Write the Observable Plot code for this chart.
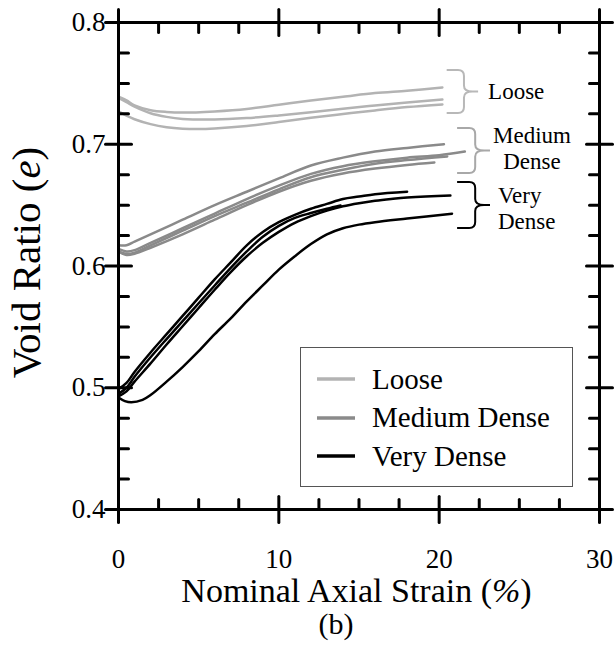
<!DOCTYPE html>
<html><head><meta charset="utf-8">
<script src="https://cdn.jsdelivr.net/npm/d3@7"></script>
<script src="https://cdn.jsdelivr.net/npm/@observablehq/plot@0.6"></script>
<style>
body{margin:0;background:#fff;}
#chart{position:relative;width:616px;height:650px;font-family:"Liberation Serif","Times New Roman",serif;}
#legend{position:absolute;left:300px;top:347px;width:273px;height:140px;border:1px solid #555;box-sizing:border-box;background:#fff;}
.row{position:absolute;left:16px;height:38px;display:flex;align-items:center;font-size:29px;color:#000;white-space:nowrap;font-family:"Liberation Serif","Times New Roman",serif;}
.row svg{margin-right:17px;}
</style></head><body><div id="chart"><div id="legend"></div></div>
<script>
// axes
const xDomain = [0, 30];
const yDomain = [0.4, 0.8];
const xMajor = [0, 10, 20, 30];
const xMinor = [2.5, 5, 7.5, 12.5, 15, 17.5, 22.5, 25, 27.5];
const yMajor = [0.4, 0.5, 0.6, 0.7, 0.8];
const yMinor = [0.425, 0.45, 0.475, 0.525, 0.55, 0.575, 0.625, 0.65, 0.675, 0.725, 0.75, 0.775];

// series: [strain %, void ratio]
const groups = ["Loose", "Medium Dense", "Very Dense"];
const groupColors = ["#b3b3b3", "#8a8a8a", "#000000"];

const loose1 = [[0,0.739],[0.5,0.736],[1,0.732],[2,0.728],[3,0.7265],[4,0.726],[6,0.727],[8,0.729],[10,0.7325],[12,0.736],[14,0.739],[16,0.742],[18,0.744],[20.2,0.7466]];
const loose2 = [[0,0.738],[0.5,0.7345],[1,0.731],[2,0.7255],[3,0.7225],[4,0.7208],[6,0.7203],[8,0.7215],[10,0.7237],[12,0.7263],[14,0.7292],[16,0.7318],[18,0.7343],[20.2,0.7367]];
const loose3 = [[0,0.727],[0.5,0.7235],[1,0.7205],[2,0.7165],[3,0.714],[4,0.7128],[5,0.7125],[6,0.713],[8,0.715],[10,0.7182],[12,0.7217],[14,0.7248],[16,0.7278],[18,0.7305],[20.2,0.7327]];

const medium1 = [[0,0.617],[0.5,0.617],[1,0.62],[2,0.626],[4,0.638],[6,0.65],[8,0.661],[10,0.672],[12,0.6826],[14,0.689],[16,0.694],[18,0.697],[20.3,0.7]];
const medium2 = [[0,0.614],[0.5,0.612],[1,0.613],[2,0.619],[4,0.631],[6,0.643],[8,0.655],[10,0.666],[12,0.6757],[14,0.682],[16,0.686],[18,0.689],[20,0.691],[21.6,0.694]];
const medium3 = [[0,0.612],[0.5,0.61],[1,0.611],[2,0.617],[4,0.629],[6,0.641],[8,0.652],[10,0.663],[12,0.6729],[14,0.679],[16,0.684],[18,0.687],[20.5,0.69]];
const medium4 = [[0,0.612],[0.5,0.609],[1,0.61],[2,0.615],[4,0.626],[6,0.638],[8,0.65],[10,0.661],[12,0.67],[14,0.676],[16,0.68],[18,0.683],[19.7,0.685]];

const dense1 = [[0,0.499],[0.5,0.504],[1,0.513],[2,0.529],[3,0.544],[4,0.559],[5,0.574],[6,0.589],[7,0.603],[8,0.617],[9,0.628],[10,0.636],[11,0.642],[12,0.647],[13,0.651],[14,0.655],[15,0.657],[16,0.659],[18,0.661]];
const dense2 = [[0,0.493],[0.5,0.497],[1,0.505],[2,0.52],[3,0.5355],[4,0.5505],[5,0.5655],[6,0.5805],[7,0.595],[8,0.608],[9,0.619],[10,0.628],[11,0.6355],[12,0.641],[13,0.6455],[14,0.649],[15,0.6515],[16,0.6535],[17,0.655],[18,0.6562],[20.7,0.6579]];
const dense3 = [[0,0.495],[0.5,0.5],[1,0.509],[2,0.525],[3,0.54],[4,0.5547],[5,0.5694],[6,0.584],[7,0.5985],[8,0.612],[9,0.624],[10,0.633],[11,0.6395],[12,0.6435],[13,0.647],[13.85,0.6497]];
const dense4 = [[0,0.492],[0.4,0.489],[0.8,0.488],[1.5,0.49],[2,0.494],[3,0.505],[4,0.517],[5,0.53],[6,0.544],[7,0.557],[8,0.571],[9,0.584],[10,0.597],[11,0.608],[12,0.618],[13,0.626],[14,0.631],[15,0.634],[16,0.636],[18,0.639],[20.8,0.643]];

// bracket annotations (data units)
const braceLabels = ["Loose", "Medium\nDense", "Very\nDense"];
const braceTop = [0.7606, 0.7129, 0.6686];
const braceBottom = [0.7253, 0.676, 0.6308];
const braceLeft = [20.5, 21.15, 21.15];
const braceTip = [22.46, 23.2, 23.2];
const braceColors = ["#b8b8b8", "#a8a8a8", "#000000"];

const rows = [];
function add(group, id, pts) { for (const [x, y] of pts) rows.push({group, id, x, y}); }
add("Loose", "L1", loose1); add("Loose", "L2", loose2); add("Loose", "L3", loose3);
add("Medium Dense", "M1", medium1); add("Medium Dense", "M2", medium2); add("Medium Dense", "M3", medium3); add("Medium Dense", "M4", medium4);
add("Very Dense", "D1", dense1); add("Very Dense", "D2", dense2); add("Very Dense", "D3", dense3); add("Very Dense", "D4", dense4);

const tickShape = {draw(ctx, l) { ctx.moveTo(0, 0); ctx.lineTo(0, -l); }};
const tk = {shape: tickShape, strokeWidth: 3, stroke: "#000"};

const plot = Plot.plot({
  width: 616, height: 650,
  marginLeft: 118, marginRight: 17, marginTop: 22, marginBottom: 141,
  style: {fontFamily: "'Liberation Serif','Times New Roman',serif", background: "transparent", overflow: "visible", color: "#000"},
  x: {domain: xDomain, axis: null},
  y: {domain: yDomain, axis: null},
  color: {domain: groups, range: groupColors},
  marks: [
    Plot.line(rows, {x: "x", y: "y", z: "id", stroke: "group", strokeWidth: 2.5, curve: "catmull-rom"}),
    Plot.frame({strokeWidth: 3, stroke: "#000"}),
    Plot.vector(xMajor, {x: d => d, frameAnchor: "bottom", length: 26, rotate: 0, anchor: "middle", ...tk}),
    Plot.vector(xMajor, {x: d => d, frameAnchor: "top", length: 26, rotate: 0, anchor: "middle", ...tk}),
    Plot.vector(xMinor, {x: d => d, frameAnchor: "bottom", length: 10, rotate: 0, anchor: "start", ...tk}),
    Plot.vector(xMinor, {x: d => d, frameAnchor: "top", length: 10, rotate: 180, anchor: "start", ...tk}),
    Plot.vector(yMajor, {y: d => d, frameAnchor: "left", length: 26, rotate: 90, anchor: "middle", ...tk}),
    Plot.vector(yMajor, {y: d => d, frameAnchor: "right", length: 26, rotate: 90, anchor: "middle", ...tk}),
    Plot.vector(yMinor, {y: d => d, frameAnchor: "left", length: 10, rotate: 90, anchor: "start", ...tk}),
    Plot.vector(yMinor, {y: d => d, frameAnchor: "right", length: 10, rotate: -90, anchor: "start", ...tk}),
    Plot.axisX(xMajor, {tickSize: 0, tickPadding: 39, fontSize: 27, label: null, tickFormat: d => String(d), fontFamily: "Liberation Serif"}),
    Plot.axisY(yMajor, {tickSize: 0, tickPadding: 13, fontSize: 27, label: null, tickFormat: d3.format(".1f"), fontFamily: "Liberation Serif"})
  ]
});

document.getElementById("chart").prepend(plot);
const svg = d3.select(plot);
const sx = plot.scale("x"), sy = plot.scale("y");
const [fx0, fx1] = sx.range, [fy0, fy1] = sy.range; // fy0 bottom, fy1 top

// braces
const labelDy = [8, 5, 11];
braceLabels.forEach((lab, i) => {
  const L = sx.apply(braceLeft[i]), T = sx.apply(braceTip[i]);
  const V = L + (T - L) * 0.55;
  const t = sy.apply(braceTop[i]), b = sy.apply(braceBottom[i]);
  const m = (t + b) / 2, r = 6;
  const p = `M${L},${t}H${V - r}Q${V},${t} ${V},${t + r}V${m - r}Q${V},${m} ${T - (T - V) * 0.4},${m}H${T}` +
            `M${T - (T - V) * 0.4},${m}Q${V},${m} ${V},${m + r}V${b - r}Q${V},${b} ${V - r},${b}H${L}`;
  svg.append("path").attr("d", p).attr("fill", "none").attr("stroke", braceColors[i]).attr("stroke-width", 2);
  const lines = lab.split("\n");
  const txt = svg.append("text").attr("font-size", 23).attr("fill", "#000").attr("font-family", "Liberation Serif");
  const anchor = i === 1 ? "middle" : "start";
  const tx = i === 1 ? T + 42 : T + (i === 0 ? 10 : 8);
  txt.attr("text-anchor", anchor);
  const lh = 26;
  lines.forEach((ln, j) => {
    txt.append("tspan").attr("x", tx).attr("y", m + labelDy[i] + (j - (lines.length - 1) / 2) * lh).text(ln);
  });
});

// axis titles
const xt = svg.append("text").attr("x", (fx0 + fx1) / 2 - 2).attr("y", fy0 + 93).attr("text-anchor", "middle").attr("font-size", 34);
xt.append("tspan").text("Nominal Axial Strain (");
xt.append("tspan").attr("font-style", "italic").text("%");
xt.append("tspan").text(")");
const yt = svg.append("text").attr("transform", `translate(40,${(fy0 + fy1) / 2 - 3}) rotate(-90)`).attr("text-anchor", "middle").attr("font-size", 41);
yt.append("tspan").text("Void Ratio (");
yt.append("tspan").attr("font-style", "italic").text("e");
yt.append("tspan").text(")");
svg.append("text").attr("x", 336).attr("y", 634).attr("text-anchor", "middle").attr("font-size", 30).text("(b)");

// legend
const legend = document.getElementById("legend");
groups.forEach((g, i) => {
  const row = document.createElement("div");
  row.className = "row";
  row.style.top = (12 + i * 38.5) + "px";
  row.innerHTML = `<svg width="38" height="6"><line x1="0" x2="38" y1="3" y2="3" stroke="${groupColors[i]}" stroke-width="3.5"/></svg><span>${g}</span>`;
  legend.appendChild(row);
});
</script></body></html>
